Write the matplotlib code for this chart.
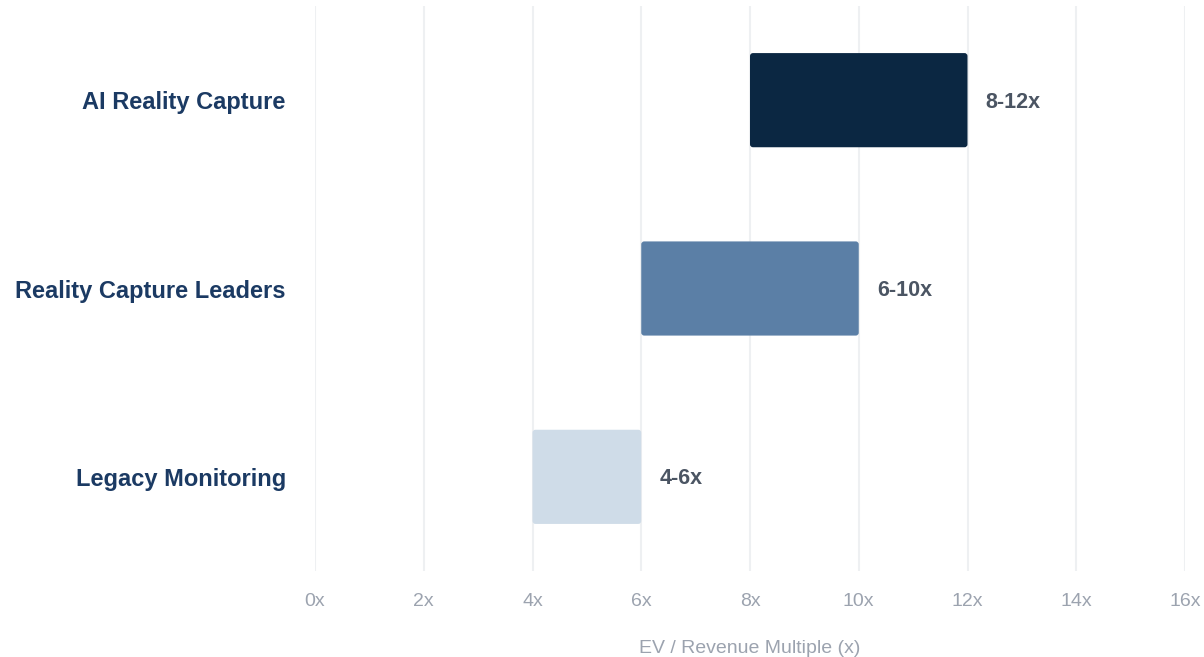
import matplotlib.pyplot as plt
from matplotlib.patches import FancyBboxPatch

plt.rcParams['font.family'] = ['Liberation Sans', 'DejaVu Sans']

# valuation ranges, EV / revenue multiple
categories = ['AI Reality Capture', 'Reality Capture Leaders', 'Legacy Monitoring']
low = [8, 6, 4]
high = [12, 10, 6]
range_labels = ['8-12x', '6-10x', '4-6x']
colors = ['#0b2742', '#5b7fa6', '#cfdce8']
xticks = [0, 2, 4, 6, 8, 10, 12, 14, 16]

fig = plt.figure(figsize=(12.04, 6.57), dpi=100)
ax = fig.add_axes([315 / 1204, 1 - 571 / 657, 870 / 1204, 565 / 657])

ax.set_xlim(0, 16)
ax.set_ylim(len(categories) - 0.5, -0.5)

# rounded bars; corner radius in pixels converted into data units
bar_h = 0.5
px_x = 870 / 16
px_y = 565 / 3
r = 3 / px_x
for i, (lo, hi, c) in enumerate(zip(low, high, colors)):
    p = FancyBboxPatch((lo, i - bar_h / 2), hi - lo, bar_h,
                       boxstyle='round,pad=0,rounding_size=%f' % r,
                       mutation_aspect=px_x / px_y,
                       fc=c, ec='none', zorder=3)
    ax.add_patch(p)
    ax.annotate(range_labels[i], (hi, i), xytext=(13, -1.5), textcoords='offset points',
                va='center', ha='left', fontsize=15.5, fontweight='bold', color='#4b5563')

ax.set_yticks(range(len(categories)))
ax.set_yticklabels(categories, fontsize=17, fontweight='bold', color='#1b3a63')
ax.set_xticks(xticks)
ax.set_xticklabels(['%dx' % t for t in xticks], fontsize=14, color='#9ca3af')
ax.tick_params(axis='both', length=0)
ax.tick_params(axis='y', pad=21)
ax.tick_params(axis='x', pad=15.5)
ax.set_xlabel('EV / Revenue Multiple (x)', fontsize=14, color='#9ca3af')
ax.xaxis.set_label_coords(0.50, -0.123)

ax.grid(axis='x', color='#eef0f2', linewidth=1.5, zorder=0)
for s in ax.spines.values():
    s.set_visible(False)

plt.savefig('out.png', dpi=100)
